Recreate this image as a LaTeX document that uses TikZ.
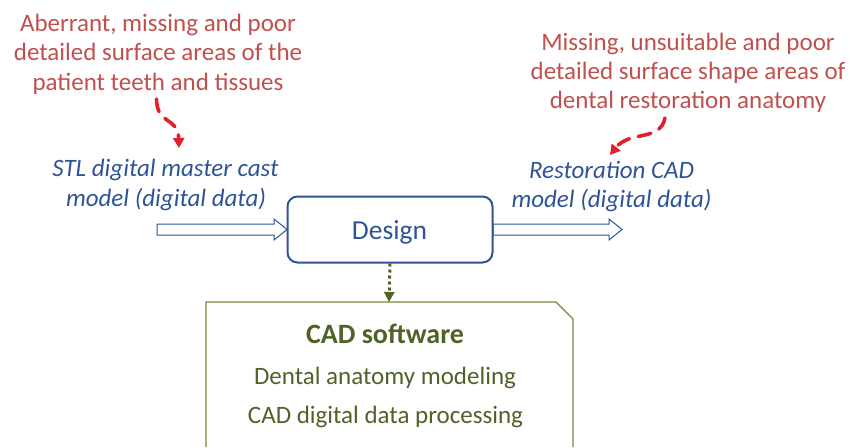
\documentclass[tikz,border=0pt]{standalone}
\usepackage{fontspec}
\setmainfont{Carlito}
\usetikzlibrary{arrows.meta}
\definecolor{txtred}{HTML}{C0504D}
\definecolor{arrred}{HTML}{E41E2B}
\definecolor{dblue}{HTML}{2F5496}
\definecolor{olivetxt}{HTML}{4F6228}
\definecolor{oliveline}{HTML}{6F8A3E}
\tikzset{
  redtxt/.style={text=txtred, font=\fontsize{25}{30}\selectfont, anchor=base, inner sep=0pt},
  bluetxt/.style={text=dblue, font=\fontsize{25}{30}\selectfont\itshape, anchor=base, inner sep=0pt},
  greentxt/.style={text=olivetxt, font=\fontsize{25}{30}\selectfont, anchor=base, inner sep=0pt},
  redarrow/.style={draw=arrred, line width=3.6pt, line cap=round, dash pattern=on 13pt off 9pt, -{Triangle[length=10pt,width=11pt]}},
  hollow/.style={draw=dblue, line width=1pt, fill=white, line join=miter},
  designbox/.style={draw=dblue, line width=2pt, rounded corners=10pt, minimum width=205pt, minimum height=66pt, fill=white, inner sep=0pt},
  designtxt/.style={text=dblue, font=\fontsize{27.5}{33}\selectfont, anchor=base, inner sep=0pt}
}
\begin{document}
\begin{tikzpicture}[x=1pt,y=-1pt]
\useasboundingbox (0,0) rectangle (850,447);
% top-left red text
\node[redtxt] (r1) at (158,31) {Aberrant, missing and poor};
\node[redtxt] (r2) at (158,60.5) {detailed surface areas of the};
\node[redtxt] (r3) at (158,90) {patient teeth and tissues};
% top-right red text
\node[redtxt] (s1) at (688,50) {Missing, unsuitable and poor};
\node[redtxt] (s2) at (688,79) {detailed surface shape areas of};
\node[redtxt] (s3) at (688,108) {dental restoration anatomy};
% blue italic labels
\node[bluetxt] (b1) at (165.5,176) {STL digital master cast};
\node[bluetxt] (b2) at (166,206) {model (digital data)};
\node[bluetxt] (c1) at (611.5,178) {Restoration CAD};
\node[bluetxt] (c2) at (611.5,207) {model (digital data)};
% red dashed curved arrows
\coordinate (la) at (156.5,99);
\coordinate (lb) at (179,148);
\coordinate (ra) at (665,118);
\coordinate (rb) at (610,155);
\draw[redarrow] (la) .. controls (157,126) and (178,116) .. (lb);
\draw[redarrow] (ra) .. controls (660,142) and (630,130) .. (rb);
% hollow block arrows
\draw[hollow] (287,229.5) -- (274,219) -- (274,224) -- (157,224) -- (157,235) -- (274,235) -- (274,240) -- cycle;
\draw[hollow] (622,229.5) -- (609,219) -- (609,224) -- (493,224) -- (493,235) -- (609,235) -- (609,240) -- cycle;
% design box
\node[designbox] (des) at (390,229.5) {};
\node[designtxt] (destxt) at (389.5,239) {Design};
% CAD software box
\coordinate (cadtop) at (389,302);
\draw[oliveline, line width=1.3pt, line join=miter] (206,447) -- (206,302) -- (556,302) -- (573,319) -- (573,447);
\draw[olivetxt, line width=3pt, dash pattern=on 3pt off 3pt, -{Triangle[length=10pt,width=10pt]}] (des.south) -- (cadtop);
\node[greentxt, font=\fontsize{28}{33}\selectfont\bfseries] (g1) at (385,343) {CAD software};
\node[greentxt] (g2) at (385,384) {Dental anatomy modeling};
\node[greentxt] (g3) at (385.5,423) {CAD digital data processing};
\end{tikzpicture}
\end{document}
